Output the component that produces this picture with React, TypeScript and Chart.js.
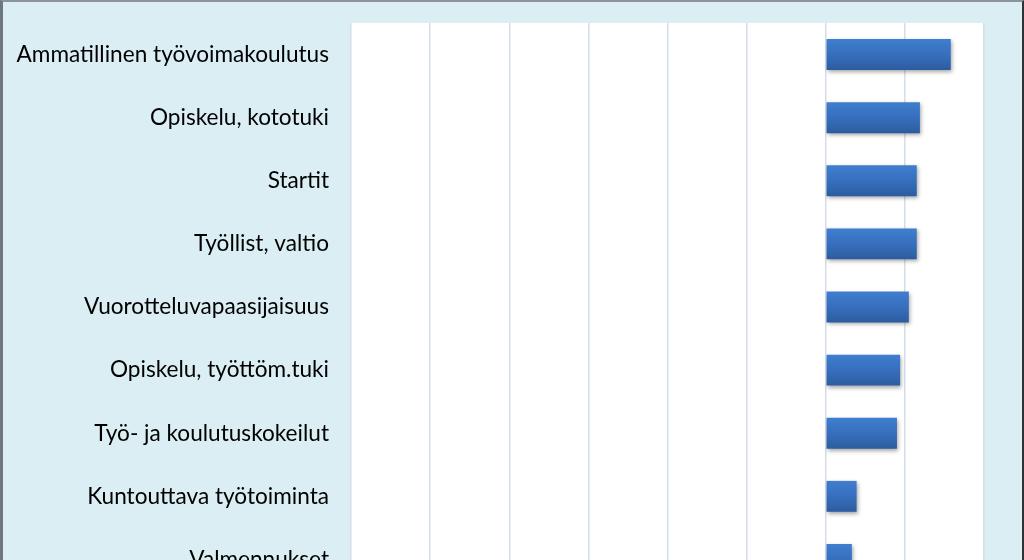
import { useEffect, useRef } from 'react'
import { Chart, registerables } from 'chart.js'
Chart.register(...registerables)

const LABELS = [
  'Ammatillinen työvoimakoulutus',
  'Opiskelu, kototuki',
  'Startit',
  'Työllist, valtio',
  'Vuorotteluvapaasijaisuus',
  'Opiskelu, työttöm.tuki',
  'Työ- ja koulutuskokeilut',
  'Kuntouttava työtoiminta',
  'Valmennukset',
]
const VALUES = [1580, 1190, 1150, 1150, 1050, 940, 900, 390, 330]
const X_MIN = -6000
const X_MAX = 2000
const X_STEP = 1000

const BAR_PCT = 0.49

export default function App() {
  const ref = useRef<HTMLCanvasElement>(null)

  useEffect(() => {
    document.body.style.margin = '0'
    document.body.style.overflow = 'hidden'
    if (!ref.current) return

    const plotBg = {
      id: 'plotBg',
      beforeDraw: (c: Chart) => {
        const { ctx, chartArea: a } = c
        ctx.save()
        ctx.fillStyle = '#ffffff'
        ctx.fillRect(a.left, a.top, a.right - a.left, a.bottom - a.top)
        ctx.restore()
      },
      beforeDatasetsDraw: (c: Chart) => {
        const ctx = c.ctx
        ctx.save()
        ctx.shadowColor = 'rgba(0,0,0,0.35)'
        ctx.shadowBlur = 4
        ctx.shadowOffsetX = 1
        ctx.shadowOffsetY = 2
      },
      afterDatasetsDraw: (c: Chart) => { c.ctx.restore() },
    }

    const chart = new Chart(ref.current, {
      type: 'bar',
      data: {
        labels: LABELS,
        datasets: [{
          data: VALUES,
          backgroundColor: (cx: any) => {
            const c = cx.chart
            const y = c.scales?.y
            if (!c.chartArea || !y) return '#3669b3'
            const mid = y.getPixelForValue(cx.dataIndex)
            const half = (y.height / LABELS.length) * BAR_PCT / 2
            const g = c.ctx.createLinearGradient(0, mid - half, 0, mid + half)
            g.addColorStop(0, '#3f7ecf')
            g.addColorStop(0.5, '#376fbd')
            g.addColorStop(1, '#2c5c9f')
            return g
          },
          borderWidth: 0,
          categoryPercentage: 1,
          barPercentage: BAR_PCT,
        }],
      },
      options: {
        indexAxis: 'y',
        responsive: false,
        animation: false,
        layout: { padding: { top: 21, right: 38, bottom: 11, left: 0 } },
        plugins: { legend: { display: false }, tooltip: { enabled: false } },
        scales: {
          x: {
            min: X_MIN, max: X_MAX,
            ticks: { display: false, stepSize: X_STEP },
            grid: { color: '#d3deea', lineWidth: 1.5, drawTicks: false },
            border: { display: false },
            afterFit: (s: any) => { s.height = 0; s.paddingLeft = 0; s.paddingRight = 0 },
          },
          y: {
            grid: { display: false, drawTicks: false },
            border: { display: false },
            ticks: { color: '#000', padding: 22, font: { family: 'Lato', size: 22.6 } },
            afterFit: (s: any) => { s.width = 348; s.paddingTop = 0; s.paddingBottom = 0 },
          },
        },
      },
      plugins: [plotBg],
    })
    return () => chart.destroy()
  }, [])

  return (
    <div style={{ width: 1024, height: 560, overflow: 'hidden', boxSizing: 'border-box', background: '#daeef3', borderTop: '2px solid #8a9499', borderLeft: '3px solid #6c787d', borderRight: '2px solid #2e3436' }}>
      <canvas ref={ref} width={1019} height={600} style={{ display: 'block' }} />
    </div>
  )
}
